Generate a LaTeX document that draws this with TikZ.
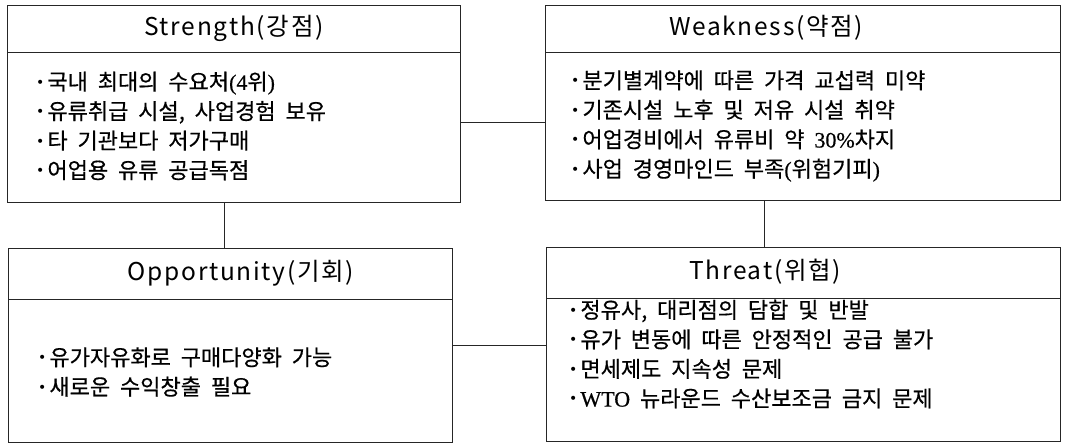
\documentclass[tikz,border=0pt]{standalone}
\usepackage{fontspec}
\setmainfont[WordSpace=2.0,FakeBold=0.5]{Noto Sans CJK KR}
\newfontfamily\ttlfont[LetterSpace=7,WordSpace=2]{Noto Sans CJK KR}
\newfontfamily\ser[FakeBold=0.5]{Liberation Serif}
\newfontfamily\dv{DejaVu Sans}
\newcommand\bl{\raisebox{0.12em}{\dv\fontsize{14}{14}\selectfont •}\hspace{3pt}}
\newcommand\sr[1]{{\ser #1}}
\begin{document}
\begin{tikzpicture}[x=1pt,y=-1pt,
  box/.style={draw=black!85, line width=0.9pt, rectangle, anchor=north west, inner sep=0},
  ttl/.style={font=\ttlfont\fontsize{24.5}{25}\selectfont, inner sep=0},
  body/.style={anchor=west, align=left, inner sep=0, font=\fontsize{22}{29.5}\selectfont},
  conn/.style={draw=black!85, line width=0.9pt},
  divl/.style={draw=black!85, line width=0.9pt}]
\useasboundingbox (0,0) rectangle (1065,444);
% boxes
\node[box, minimum width=453pt, minimum height=197pt] (S) at (7,5) {};
\node[box, minimum width=515pt, minimum height=195pt] (W) at (545,5) {};
\node[box, minimum width=444pt, minimum height=194pt] (O) at (8,248) {};
\node[box, minimum width=514pt, minimum height=194pt] (T) at (546,247) {};
% dividers
\draw[divl] (S.west |- 0,52) -- (S.east |- 0,52);
\draw[divl] (W.west |- 0,52) -- (W.east |- 0,52);
\draw[divl] (O.west |- 0,299) -- (O.east |- 0,299);
\draw[divl] (T.west |- 0,298) -- (T.east |- 0,298);
% titles
\node[ttl] (St) at (234,28) {Strength(강점)};
\node[ttl] (Wt) at (766,28) {Weakness(약점)};
\node[ttl] (Ot) at (241,273) {Opportunity(기회)};
\node[ttl] (Tt) at (765,272) {Threat(위협)};
% bodies
\node[body] (Sb) at (36,126) {\bl 국내 최대의 수요처\sr{(4}위\sr{)}\\ \bl 유류취급 시설, 사업경험 보유\\ \bl 타 기관보다 저가구매\\ \bl 어업용 유류 공급독점};
\node[body] (Wb) at (571,126) {\bl 분기별계약에 따른 가격 교섭력 미약\\ \bl 기존시설 노후 및 저유 시설 취약\\ \bl 어업경비에서 유류비 약 \sr{30\%}차지\\ \bl 사업 경영마인드 부족\sr{(}위험기피\sr{)}};
\node[body] (Ob) at (38,372) {\bl 유가자유화로 구매다양화 가능\\ \bl 새로운 수익창출 필요};
\node[body] (Tb) at (569,354) {\bl 정유사, 대리점의 담합 및 반발\\ \bl 유가 변동에 따른 안정적인 공급 불가\\ \bl 면세제도 지속성 문제\\ \bl \sr{WTO} 뉴라운드 수산보조금 금지 문제};
% connectors
\draw[conn] ([yshift=-18pt]S.east) -- ([yshift=-18pt]S.east -| W.west);
\draw[conn] ([xshift=-10pt]S.south) -- ([xshift=-10pt]S.south |- O.north);
\draw[conn] ([xshift=-39pt]W.south) -- ([xshift=-39pt]W.south |- T.north);
\draw[conn] (O.east) -- (O.east -| T.west);
\end{tikzpicture}
\end{document}
